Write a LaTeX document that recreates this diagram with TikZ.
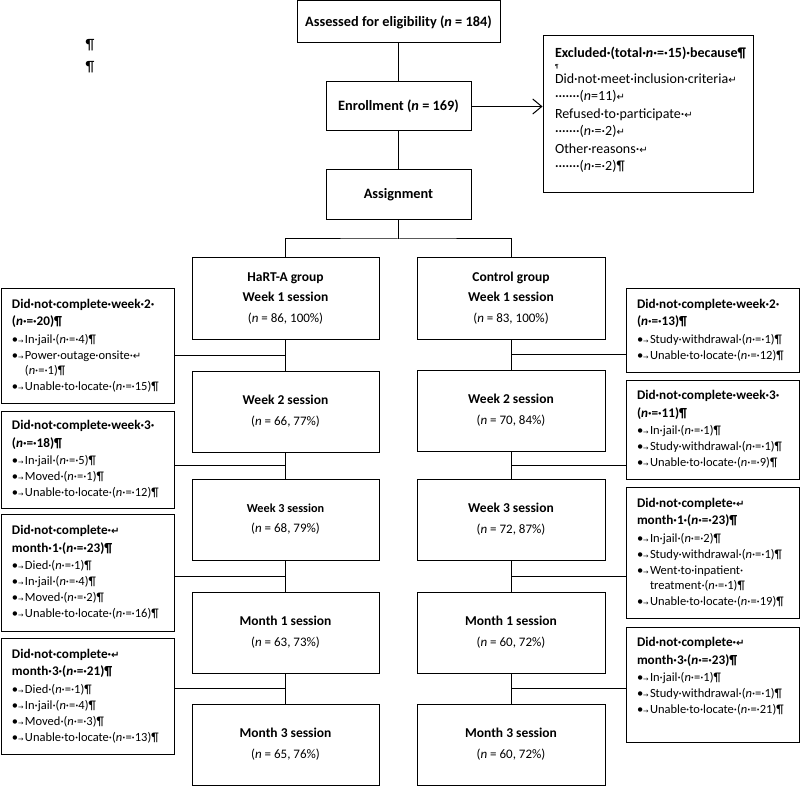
\documentclass[tikz,border=0pt]{standalone}
\usepackage{fontspec}
\setmainfont{Carlito}
\newfontfamily\symf{DejaVu Sans}
\usetikzlibrary{calc,arrows.meta}
\hyphenpenalty=10000
\exhyphenpenalty=10000

\newcommand\Nn{\textit{n}}
\newcommand\retmark{{\symf\fontsize{10}{10}\selectfont ↵}}
\newcommand\bul{\makebox[13pt][l]{•{\symf\fontsize{6.5}{6.5}\selectfont →}}}
\newcommand\bulind{\hspace*{13pt}}
\newcommand\drophead[1]{{\bfseries\fontsize{13.2}{18}\selectfont #1}}
\newcommand\tally[1]{{\mdseries\fontsize{13}{20}\selectfont(\Nn{} = #1)}}

\tikzset{
  box/.style={draw, line width=1pt, inner sep=0pt, align=center},
  topbox/.style={box, minimum width=145pt, font=\bfseries\fontsize{14.3}{16}\selectfont},
  midbox/.style={box, minimum width=187pt, minimum height=81pt, font=\bfseries\fontsize{13.5}{20}\selectfont},
  sidebox/.style={box, text width=151pt, inner xsep=11pt, inner ysep=0pt, align=flush left,
    font=\fontsize{12.5}{16}\selectfont},
  link/.style={line width=1pt}
}

\begin{document}
\begin{tikzpicture}[x=1pt,y=-1pt]
\useasboundingbox (0,0) rectangle (800,786);

\node (pm1) [font=\fontsize{15}{15}\selectfont] at (90,45) {¶};
\node (pm2) [font=\fontsize{15}{15}\selectfont] at (90,67) {¶};

\node (elig) [topbox, minimum width=203pt, minimum height=42pt] at (398.5,22) {Assessed for eligibility (\Nn{} = 184)};
\node (enrol) [topbox, minimum height=49pt] at (398.5,106.5) {Enrollment (\Nn{} = 169)};
\node (assign) [topbox, minimum height=50pt] at (398.5,195) {Assignment};
\node (excl) [sidebox, text width=186pt, inner xsep=12pt, minimum height=157pt, font=\fontsize{14}{17.5}\selectfont] at (648,114.5) {%
	\textbf{Excluded·(total·\Nn{}·=·15)·because¶}\\[-6pt]
	{\fontsize{6}{6}\selectfont ¶}\\[-3pt]
	Did·not·meet·inclusion·criteria\retmark\\
	·······(\Nn{}=11)\retmark\\
	Refused·to·participate·\retmark\\
	·······(\Nn{}·=·2)\retmark\\
	Other·reasons·\retmark\\
	·······(\Nn{}·=·2)¶\rule[-11pt]{0pt}{0pt}};

\node (hw1) [midbox] at (285.5,298.5) {HaRT-A group\\Week 1 session\\[1pt]\tally{86, 100\%}};
\node (hw2) [midbox] at (285.5,411.5) {Week 2 session\\[1pt]\tally{66, 77\%}};
\node (hw3) [midbox] at (285.5,519.5) {{\fontsize{12.2}{20}\selectfont Week 3 session}\\\tally{68, 79\%}};
\node (hm1) [midbox] at (285.5,632.5) {Month 1 session\\[1pt]\tally{63, 73\%}};
\node (hm3) [midbox] at (285.5,744.5) {Month 3 session\\[1pt]\tally{65, 76\%}};

\node (cw1) [midbox, minimum width=188pt] at (511,298.5) {Control group\\Week 1 session\\[1pt]\tally{83, 100\%}};
\node (cw2) [midbox, minimum width=188pt] at (511,410.5) {Week 2 session\\[1pt]\tally{70, 84\%}};
\node (cw3) [midbox, minimum width=188pt] at (511,519.5) {Week 3 session\\[1pt]\tally{72, 87\%}};
\node (cm1) [midbox, minimum width=188pt] at (511,632.5) {Month 1 session\\[1pt]\tally{60, 72\%}};
\node (cm3) [midbox, minimum width=188pt] at (511,744.5) {Month 3 session\\[1pt]\tally{60, 72\%}};

\node (lw2) [sidebox, minimum height=115pt] at (87.5,345.5) {%
	\drophead{Did·not·complete·week·2·}\\[1.5pt]
	\drophead{(\Nn{}·=·20)¶}\\[1.5pt]
	\bul In·jail·(\Nn{}·=·4)¶\\
	\bul Power·outage·onsite·\retmark\\[-1pt]
	\bulind(\Nn{}·=·1)¶\\
	\bul Unable·to·locate·(\Nn{}·=·15)¶};
\node (lw3) [sidebox, minimum height=97pt] at (87.5,459.5) {%
	\drophead{Did·not·complete·week·3·}\\[1.5pt]
	\drophead{(\Nn{}·=·18)¶}\\[1.5pt]
	\bul In·jail·(\Nn{}·=·5)¶\\
	\bul Moved·(\Nn{}·=·1)¶\\
	\bul Unable·to·locate·(\Nn{}·=·12)¶};
\node (lm1) [sidebox, minimum height=117pt] at (87.5,572.5) {%
	\drophead{Did·not·complete·\retmark}\\[1.5pt]
	\drophead{month·1·(\Nn{}·=·23)¶}\\[1.5pt]
	\bul Died·(\Nn{}·=·1)¶\\
	\bul In·jail·(\Nn{}·=·4)¶\\
	\bul Moved·(\Nn{}·=·2)¶\\
	\bul Unable·to·locate·(\Nn{}·=·16)¶};
\node (lm3) [sidebox, minimum height=116pt] at (87.5,696) {%
	\drophead{Did·not·complete·\retmark}\\[1.5pt]
	\drophead{month·3·(\Nn{}·=·21)¶}\\[1.5pt]
	\bul Died·(\Nn{}·=·1)¶\\
	\bul In·jail·(\Nn{}·=·4)¶\\
	\bul Moved·(\Nn{}·=·3)¶\\
	\bul Unable·to·locate·(\Nn{}·=·13)¶};

\node (rw2) [sidebox, minimum height=84pt] at (712.5,330) {%
	\drophead{Did·not·complete·week·2·}\\[1.5pt]
	\drophead{(\Nn{}·=·13)¶}\\[1.5pt]
	\bul Study·withdrawal·(\Nn{}·=·1)¶\\
	\bul Unable·to·locate·(\Nn{}·=·12)¶};
\node (rw3) [sidebox, minimum height=99pt] at (712.5,429.5) {%
	\drophead{Did·not·complete·week·3·}\\[1.5pt]
	\drophead{(\Nn{}·=·11)¶}\\[1.5pt]
	\bul In·jail·(\Nn{}·=·1)¶\\
	\bul Study·withdrawal·(\Nn{}·=·1)¶\\
	\bul Unable·to·locate·(\Nn{}·=·9)¶};
\node (rm1) [sidebox, minimum height=131pt] at (712.5,552.5) {%
	\drophead{Did·not·complete·\retmark}\\[1.5pt]
	\drophead{month·1·(\Nn{}·=·23)¶}\\[1.5pt]
	\bul In·jail·(\Nn{}·=·2)¶\\
	\bul Study·withdrawal·(\Nn{}·=·1)¶\\
	\bul Went·to·inpatient·\\[-1pt]
	\bulind treatment·(\Nn{}·=·1)¶\\
	\bul Unable·to·locate·(\Nn{}·=·19)¶};
\node (rm3) [sidebox, minimum height=115pt] at (712.5,684.5) {%
	\drophead{Did·not·complete·\retmark}\\[1.5pt]
	\drophead{month·3·(\Nn{}·=·23)¶}\\[1.5pt]
	\bul In·jail·(\Nn{}·=·1)¶\\
	\bul Study·withdrawal·(\Nn{}·=·1)¶\\
	\bul Unable·to·locate·(\Nn{}·=·21)¶\rule[-18pt]{0pt}{0pt}};

\draw [link] (elig) -- (enrol);
\draw [link] (enrol) -- (assign);
\draw [link, -{Straight Barb[length=9pt,width=15pt]}] (enrol.east) -- (enrol.east -| excl.west);
\coordinate (split) at (398.5,239);
\draw [link] (assign) -- (split);
\draw [link] (hw1.north) |- (split) -| (cw1.north);

\foreach \a/\b/\s in {hw1/hw2/lw2, hw2/hw3/lw3, hw3/hm1/lm1, hm1/hm3/lm3} {
	\draw [link] (\a) -- (\b);
	\coordinate (j) at ($(\a.south)!.5!(\b.north)$);
	\draw [link] (j) -- (j -| \s.east);
}
\foreach \a/\b/\s in {cw1/cw2/rw2, cw2/cw3/rw3, cw3/cm1/rm1, cm1/cm3/rm3} {
	\draw [link] (\a) -- (\b);
	\coordinate (j) at ($(\a.south)!.5!(\b.north)$);
	\draw [link] (j) -- (j -| \s.west);
}

\end{tikzpicture}
\end{document}
